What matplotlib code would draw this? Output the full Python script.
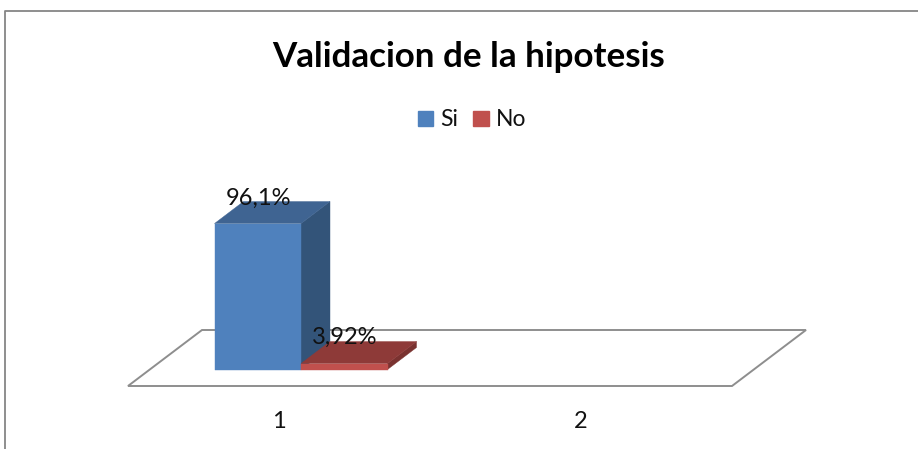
import matplotlib
matplotlib.use('Agg')
import matplotlib.pyplot as plt
from matplotlib.patches import Polygon, Patch

# data
categories = ['1', '2']
series = ['Si', 'No']
si_values = [96.1, None]
no_values = [3.92, None]
si_labels = ['96,1%', '']
no_labels = ['3,92%', '']
title = 'Validacion de la hipotesis'

W, H = 918, 449
PX_X = 302.0    # pixels per category
PX_Y = 1.519    # pixels per value unit
FLOOR_X0 = 128  # floor front left corner
FLOOR_Y0 = 386  # floor front edge

plt.rcParams['font.family'] = ['Lato', 'DejaVu Sans']

fig = plt.figure(figsize=(W / 100, H / 100), dpi=100)
ax = fig.add_axes([0, 0, 1, 1])
x_left = 0.5 - FLOOR_X0 / PX_X
y_bottom = -(H - FLOOR_Y0) / PX_Y
ax.set_xlim(x_left, x_left + W / PX_X)
ax.set_ylim(y_bottom, y_bottom + H / PX_Y)
ax.axis('off')

# oblique depth, in data units
floor_dx = 74 / PX_X
floor_dy = 56 / PX_Y
bar_dx = 29 / PX_X
bar_dy = 22 / PX_Y
gap_dx = 22 / PX_X
gap_dy = 16.5 / PX_Y
bar_w = 86.5 / PX_X


def draw_box(x, val, front, top, side):
    x0 = x + gap_dx
    x1 = x0 + bar_w
    y0 = gap_dy
    y1 = gap_dy + val
    ax.add_patch(Polygon([(x1, y0), (x1 + bar_dx, y0 + bar_dy), (x1 + bar_dx, y1 + bar_dy), (x1, y1)],
                         facecolor=side, edgecolor=side, lw=0.3))
    ax.add_patch(Polygon([(x0, y1), (x1, y1), (x1 + bar_dx, y1 + bar_dy), (x0 + bar_dx, y1 + bar_dy)],
                         facecolor=top, edgecolor=top, lw=0.3))
    ax.add_patch(Polygon([(x0, y0), (x1, y0), (x1, y1), (x0, y1)],
                         facecolor=front, edgecolor=front, lw=0.3))
    return (x0 + x1) / 2, y1


# floor
n = len(categories)
ax.add_patch(Polygon([(0.5, 0), (0.5 + n, 0), (0.5 + n + floor_dx, floor_dy), (0.5 + floor_dx, floor_dy)],
                     facecolor='white', edgecolor='#8e8e8e', lw=1.4, joinstyle='miter'))

for i, cat in enumerate(categories):
    pos = i + 1
    if si_values[i] is not None:
        cx, cy = draw_box(pos - bar_w, si_values[i], '#4f81bd', '#3f6492', '#335479')
        ax.annotate(si_labels[i], (cx, cy), xytext=(0.5, 18), textcoords='offset points',
                    ha='center', va='center', fontsize=17, color='#111111')
    if no_values[i] is not None:
        cx, cy = draw_box(pos, no_values[i], '#c0504d', '#8e3a38', '#7a3230')
        ax.annotate(no_labels[i], (cx, cy), xytext=(0, 19), textcoords='offset points',
                    ha='center', va='center', fontsize=17, color='#111111')
    ax.annotate(cat, (pos, 0), xytext=(0, -25.5), textcoords='offset points',
                ha='center', va='center', fontsize=17, color='#111111')

# chart frame, cut off on the right and bottom
fig.add_artist(plt.Line2D([4.5 / W, 4.5 / W, 1], [0, 1 - 10.5 / H, 1 - 10.5 / H],
                          color='#868686', lw=1.3))

fig.text(469 / W, 1 - 57 / H, title, ha='center', va='center', fontsize=25.2, fontweight='bold', color='black')

handles = [Patch(color='#4f81bd', label=series[0]), Patch(color='#c0504d', label=series[1])]
fig.legend(handles=handles, loc='center', bbox_to_anchor=(472 / W, 1 - 120 / H), ncol=2, frameon=False,
           fontsize=16.5, handlelength=0.68, handleheight=0.68, handletextpad=0.3, columnspacing=0.65,
           labelcolor='#111111')

fig.savefig('out.png', dpi=100)
